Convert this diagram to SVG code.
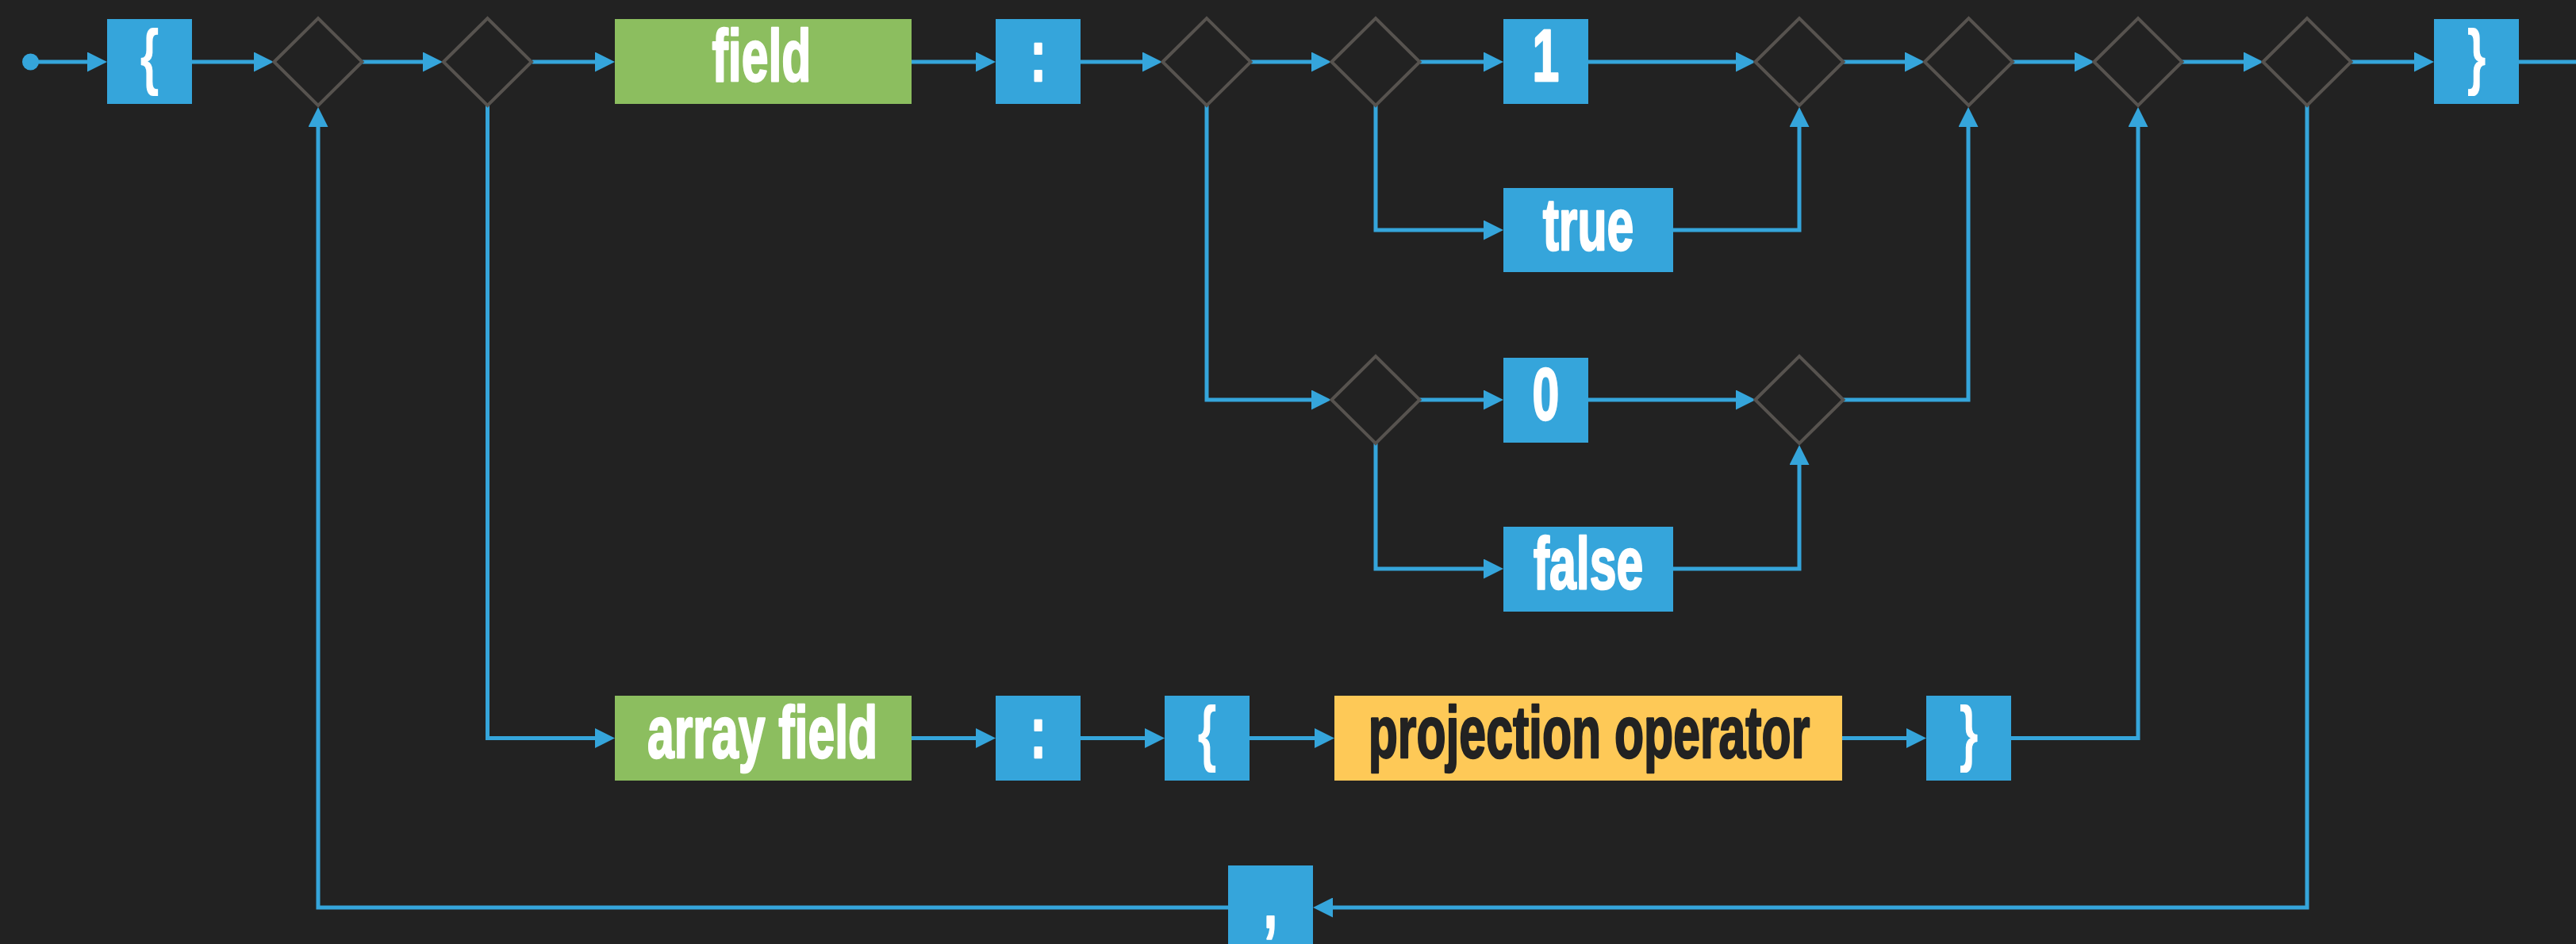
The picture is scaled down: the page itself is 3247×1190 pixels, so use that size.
<svg xmlns="http://www.w3.org/2000/svg" width="3247" height="1190" viewBox="0 0 3247 1190">
<defs>
<style>
.bg{fill:#222222}
.t{fill:#35a5db}
.g{fill:#8cbe5f}
.y{fill:#fec957}
.d{fill:none;stroke:#57534f;stroke-width:4}
.c{fill:none;stroke:#35a5db;stroke-width:5}
.a{marker-end:url(#arr)}
.tx{font-family:"Liberation Sans",Arial,sans-serif;font-weight:bold;font-size:92px;text-anchor:middle;fill:#ffffff;stroke:#ffffff;stroke-width:2.5;stroke-linejoin:round}
.br{stroke-width:0}
.dk{fill:#222222;stroke:#222222}
</style>
<marker id="arr" markerUnits="userSpaceOnUse" markerWidth="25" markerHeight="25" viewBox="0 0 25 25" refX="12" refY="12.5" orient="auto">
<path d="M0,0 L25,12.5 L0,25 z" fill="#35a5db"/>
</marker>
</defs>
<rect class="bg" x="0" y="0" width="3247" height="1190"/>

<g id="connectors">
<circle cx="38.5" cy="78" r="10.5" fill="#35a5db"/>
<path class="c a" d="M38.5,78 H122"/>
<path class="c a" d="M242,78 H332"/>
<path class="c a" d="M457,78 H545"/>
<path class="c a" d="M671,78 H762"/>
<path class="c a" d="M1149,78 H1242"/>
<path class="c a" d="M1362,78 H1452"/>
<path class="c a" d="M1577,78 H1665"/>
<path class="c a" d="M1790,78 H1882"/>
<path class="c a" d="M2002,78 H2200"/>
<path class="c a" d="M2323,78 H2413"/>
<path class="c a" d="M2536,78 H2627"/>
<path class="c a" d="M2750,78 H2840"/>
<path class="c a" d="M2963,78 H3055"/>
<path class="c" d="M3175,78 H3247"/>
<path class="c a" d="M1734,133 V290 H1882"/>
<path class="c a" d="M2109,290 H2268 V148"/>
<path class="c a" d="M1521,133 V504 H1665"/>
<path class="c a" d="M1789,504 H1882"/>
<path class="c a" d="M2002,504 H2200"/>
<path class="c a" d="M1734,559 V717 H1882"/>
<path class="c a" d="M2109,717 H2268 V574"/>
<path class="c a" d="M2323,504 H2481 V148"/>
<path class="c a" d="M614.5,133 V930.5 H762"/>
<path class="c a" d="M1149,930.5 H1242"/>
<path class="c a" d="M1362,930.5 H1455"/>
<path class="c a" d="M1575,930.5 H1669"/>
<path class="c a" d="M2322,930.5 H2415"/>
<path class="c a" d="M2535,930.5 H2695 V148"/>
<path class="c a" d="M2908,133 V1144 H1668"/>
<path class="c a" d="M1548,1144 H401 V148"/>
</g>

<g id="n-open"><rect class="t" x="135" y="24" width="107" height="107"/><text class="tx br" transform="translate(188.5,102) scale(0.66,1)">{</text></g>
<g id="j1"><polygon class="d" points="345.5,78 401,23 456.5,78 401,133"/></g>
<g id="j2"><polygon class="d" points="559,78 614.5,23 670,78 614.5,133"/></g>
<g id="n-field"><rect class="g" x="775" y="24" width="374" height="107"/><text class="tx" transform="translate(960,102) scale(0.66,1)">field</text></g>
<g id="n-colon1"><rect class="t" x="1255" y="24" width="107" height="107"/><text class="tx" transform="translate(1308.5,102) scale(0.66,1)">:</text></g>
<g id="j3"><polygon class="d" points="1465.5,78 1521,23 1576.5,78 1521,133"/></g>
<g id="j4"><polygon class="d" points="1678.5,78 1734,23 1789.5,78 1734,133"/></g>
<g id="n-one"><rect class="t" x="1895" y="24" width="107" height="107"/><text class="tx" transform="translate(1948.5,102) scale(0.66,1)">1</text></g>
<g id="n-true"><rect class="t" x="1895" y="237" width="214" height="106"/><text class="tx" transform="translate(2002,315) scale(0.66,1)">true</text></g>
<g id="j9"><polygon class="d" points="1678.5,504 1734,449 1789.5,504 1734,559"/></g>
<g id="n-zero"><rect class="t" x="1895" y="451" width="107" height="107"/><text class="tx" transform="translate(1948.5,529) scale(0.66,1)">0</text></g>
<g id="n-false"><rect class="t" x="1895" y="664" width="214" height="107"/><text class="tx" transform="translate(2002,742) scale(0.66,1)">false</text></g>
<g id="j10"><polygon class="d" points="2212.5,504 2268,449 2323.5,504 2268,559"/></g>
<g id="j5"><polygon class="d" points="2212.5,78 2268,23 2323.5,78 2268,133"/></g>
<g id="j6"><polygon class="d" points="2426,78 2481.5,23 2537,78 2481.5,133"/></g>
<g id="j7"><polygon class="d" points="2639.5,78 2695,23 2750.5,78 2695,133"/></g>
<g id="j8"><polygon class="d" points="2852.5,78 2908,23 2963.5,78 2908,133"/></g>
<g id="n-close"><rect class="t" x="3068" y="24" width="107" height="107"/><text class="tx br" transform="translate(3121.5,102) scale(0.66,1)">}</text></g>
<g id="n-arrayfield"><rect class="g" x="775" y="877" width="374" height="107"/><text class="tx" transform="translate(961,955) scale(0.66,1)">array field</text></g>
<g id="n-colon2"><rect class="t" x="1255" y="877" width="107" height="107"/><text class="tx" transform="translate(1308.5,955) scale(0.66,1)">:</text></g>
<g id="n-open2"><rect class="t" x="1468" y="877" width="107" height="107"/><text class="tx br" transform="translate(1521.5,955) scale(0.66,1)">{</text></g>
<g id="n-projection"><rect class="y" x="1682" y="877" width="640" height="107"/><text class="tx dk" transform="translate(2003,955) scale(0.66,1)">projection operator</text></g>
<g id="n-close2"><rect class="t" x="2428" y="877" width="107" height="107"/><text class="tx br" transform="translate(2481.5,955) scale(0.66,1)">}</text></g>
<g id="n-comma"><rect class="t" x="1548" y="1091" width="107" height="107"/><text class="tx" transform="translate(1601.5,1169) scale(0.66,1)">,</text></g>
</svg>
